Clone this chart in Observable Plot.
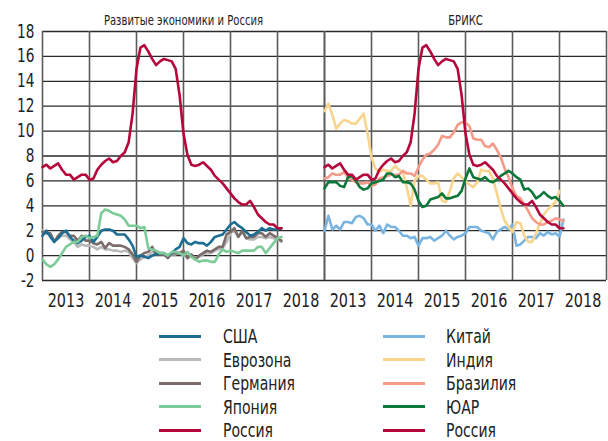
<!DOCTYPE html>
<html><head><meta charset="utf-8">
<script src="https://cdn.jsdelivr.net/npm/d3@7"></script>
<script src="https://cdn.jsdelivr.net/npm/@observablehq/plot@0.6"></script>
<style>
body{margin:0;background:#fff;font-family:"Liberation Sans Narrow","Arial Narrow","DejaVu Sans Condensed",sans-serif;color:#222;}
#chart svg{display:block;}
#legend{position:relative;width:608px;height:122px;overflow:visible;}
.sw{position:absolute;height:3px;width:42px;}
.lb{position:absolute;font-size:20px;line-height:18px;color:#222;transform:scaleX(0.78);transform-origin:0 50%;white-space:nowrap;}
</style></head>
<body>
<div id="chart"></div>
<div id="legend"></div>
<script>
// Panels (facet titles)
const panels = ["Развитые экономики и Россия", "БРИКС"];
const startYear = 2013;
const yearLabels = [2013, 2014, 2015, 2016, 2017, 2018];
const yTicks = [-2, 0, 2, 4, 6, 8, 10, 12, 14, 16, 18];

// Monthly y/y inflation, %, Jan 2013 onward
const russia = [7.1,7.3,7.0,7.2,7.4,6.9,6.5,6.5,6.1,6.3,6.5,6.5,
  6.1,6.2,6.9,7.3,7.6,7.8,7.5,7.6,8.0,8.3,9.1,11.4,
  15.0,16.7,16.9,16.4,15.8,15.3,15.6,15.8,15.7,15.6,15.0,12.9,
  9.8,8.1,7.3,7.2,7.3,7.5,7.2,6.9,6.4,6.1,5.8,5.4,
  5.0,4.6,4.3,4.1,4.1,4.4,3.9,3.3,3.0,2.7,2.5,2.5,
  2.2,2.2];
const usa = [1.6,2.0,1.5,1.1,1.4,1.8,2.0,1.5,1.2,1.0,1.2,1.5,
  1.6,1.1,1.5,2.0,2.1,2.1,2.0,1.7,1.7,1.7,1.3,0.8,
  -0.1,0.0,-0.1,-0.2,0.0,0.1,0.2,0.2,0.0,0.2,0.5,0.7,
  1.4,1.0,0.9,1.1,1.0,1.0,0.8,1.1,1.5,1.6,1.7,2.1,
  2.5,2.7,2.4,2.2,1.9,1.6,1.7,1.9,2.2,2.0,2.2,2.1,
  2.1,2.2];
const eurozone = [2.0,1.8,1.7,1.2,1.4,1.6,1.6,1.3,1.1,0.7,0.9,0.8,
  0.8,0.7,0.5,0.7,0.5,0.5,0.4,0.4,0.3,0.4,0.3,-0.2,
  -0.6,-0.3,-0.1,0.0,0.3,0.2,0.2,0.1,-0.1,0.1,0.1,0.2,
  0.3,-0.2,0.0,-0.2,-0.1,0.1,0.2,0.2,0.4,0.5,0.6,1.1,
  1.8,2.0,1.5,1.9,1.4,1.3,1.3,1.5,1.5,1.4,1.5,1.4,
  1.3,1.1];
const germany = [1.9,1.8,1.8,1.1,1.6,1.9,1.9,1.6,1.6,1.2,1.6,1.2,
  1.2,1.0,0.9,1.1,0.6,1.0,0.8,0.8,0.8,0.7,0.5,0.1,
  -0.5,0.0,0.2,0.3,0.7,0.1,0.1,0.1,-0.2,0.2,0.2,0.2,
  0.4,-0.2,0.1,-0.3,0.0,0.2,0.4,0.3,0.5,0.7,0.7,1.7,
  1.9,2.2,1.5,2.0,1.4,1.5,1.5,1.8,1.8,1.5,1.8,1.6,
  1.4,1.2];
const japan = [-0.3,-0.7,-0.9,-0.7,-0.3,0.2,0.7,0.9,1.1,1.1,1.5,1.6,
  1.4,1.5,1.6,3.4,3.7,3.6,3.4,3.3,3.2,2.9,2.4,2.4,
  2.4,2.2,2.3,0.6,0.5,0.4,0.2,0.2,0.0,0.3,0.3,0.2,
  0.0,0.3,-0.1,-0.3,-0.5,-0.4,-0.4,-0.5,-0.5,0.1,0.5,0.3,
  0.4,0.3,0.2,0.4,0.4,0.4,0.4,0.7,0.7,0.2,0.6,1.0,
  1.4,1.5];
const china = [2.0,3.2,2.1,2.4,2.1,2.7,2.7,2.6,3.1,3.2,3.0,2.5,
  2.5,2.0,2.4,1.8,2.5,2.3,2.3,2.0,1.6,1.6,1.4,1.5,
  0.8,1.4,1.4,1.5,1.2,1.4,1.6,2.0,1.6,1.3,1.5,1.6,
  1.8,2.3,2.3,2.3,2.0,1.9,1.8,1.3,1.9,2.1,2.3,2.1,
  2.5,0.8,0.9,1.2,1.5,1.5,1.4,1.8,1.6,1.9,1.7,1.8,
  1.5,2.9];
const india = [11.6,12.2,11.3,10.2,10.6,10.9,10.8,10.6,10.6,11.0,11.4,9.8,
  7.9,7.0,6.7,6.9,6.8,6.8,7.2,6.9,6.7,5.5,4.0,6.0,
  6.4,6.4,6.1,5.8,5.8,5.9,4.4,4.3,5.2,6.2,6.6,6.3,
  6.0,5.7,5.5,5.9,6.9,6.8,6.8,6.2,5.0,3.8,2.8,2.3,
  1.9,2.7,2.6,1.6,1.1,1.1,1.8,2.6,3.3,3.7,4.0,4.3,5.2];
const brazil = [6.2,6.3,6.6,6.5,6.5,6.7,6.3,6.1,5.9,5.8,5.8,5.9,
  5.6,5.7,6.2,6.3,6.4,6.5,6.5,6.5,6.8,6.6,6.6,6.4,
  7.1,7.7,8.1,8.2,8.5,8.9,9.6,9.5,9.5,9.9,10.5,10.7,
  10.7,10.4,9.4,9.3,9.3,8.8,8.7,9.0,8.5,7.9,7.0,6.3,
  5.4,4.8,4.6,4.1,3.6,3.0,2.7,2.5,2.5,2.7,2.8,3.0,
  2.9,2.8];
const southAfrica = [5.4,5.9,5.9,5.9,5.6,5.5,6.3,6.4,6.0,5.5,5.3,5.4,
  5.8,5.9,6.0,6.1,6.6,6.6,6.3,6.4,5.9,5.9,5.8,5.3,
  4.4,3.9,4.0,4.5,4.6,4.7,5.0,4.6,4.6,4.7,4.8,5.2,
  6.2,7.0,6.3,6.2,6.1,6.3,6.0,5.9,6.1,6.4,6.6,6.8,
  6.6,6.3,6.1,5.3,5.4,5.1,4.6,4.8,5.1,4.8,4.6,4.7,
  4.4,4.0];

// Series: [name, values, colour]
const leftSeries = [
  ["Еврозона", eurozone, "#b9b9b9"],
  ["Германия", germany, "#7b6b6b"],
  ["США", usa, "#1c6f92"],
  ["Япония", japan, "#7dcb98"],
  ["Россия", russia, "#b5073b"]
];
const rightSeries = [
  ["Китай", china, "#7ab5e2"],
  ["Индия", india, "#f8d58e"],
  ["Бразилия", brazil, "#f69b8a"],
  ["ЮАР", southAfrica, "#0b7738"],
  ["Россия", russia, "#b5073b"]
];
const legendLeft = ["США", "Еврозона", "Германия", "Япония", "Россия"];
const legendRight = ["Китай", "Индия", "Бразилия", "ЮАР", "Россия"];

const rows = [];
[leftSeries, rightSeries].forEach((group, p) => {
  group.forEach(([name, vals]) => {
    vals.forEach((v, i) => rows.push({panel: panels[p], key: name, t: startYear + i / 12, v}));
  });
});
const colorMap = new Map([...leftSeries, ...rightSeries].map(d => [d[0], d[2]]));
const keys = [...colorMap.keys()];

const yearEdges = d3.range(startYear, startYear + yearLabels.length + 1);
const yearMids = yearLabels.map(y => y + 0.5);

const chart = Plot.plot({
  width: 608, height: 315,
  marginLeft: 42, marginRight: 2, marginTop: 31, marginBottom: 35,
  style: {fontFamily: '"Liberation Sans Narrow","Arial Narrow","DejaVu Sans Condensed",sans-serif', color: "#222", background: "#fff"},
  fx: {domain: panels, padding: 0, label: null},
  x: {domain: [startYear, startYear + yearLabels.length]},
  y: {domain: [-2, 18]},
  color: {domain: keys, range: keys.map(k => colorMap.get(k))},
  marks: [
    Plot.ruleY(yTicks, {stroke: "#2a2a2a", strokeWidth: 1.3}),
    Plot.ruleX(yearEdges, {stroke: "#5a5a5a", strokeWidth: 1.6}),
    Plot.lineY(rows, {fx: "panel", x: "t", y: "v", z: "key", stroke: "key", strokeWidth: 2.6}),
    Plot.axisY({ticks: yTicks, tickFormat: d => (d < 0 ? "-" : "") + Math.abs(d), tickSize: 0, tickPadding: 8, fontSize: 19, label: null}),
    Plot.axisX({ticks: yearMids, tickFormat: d => String(Math.floor(d)), tickSize: 0, tickPadding: 12, fontSize: 20, label: null}),
    Plot.axisFx({anchor: "top", tickSize: 0, tickPadding: 7, fontSize: 14, label: null})
  ]
});
document.getElementById("chart").appendChild(chart);

// condense SVG text horizontally (narrow typeface look), scaling about each text's anchor x
chart.querySelectorAll("text").forEach(t => {
  let x = parseFloat(t.getAttribute("x"));
  if (!isFinite(x)) x = 0;
  const tr = t.getAttribute("transform") || "";
  t.setAttribute("transform", `${tr} translate(${x},0) scale(0.8,1) translate(${-x},0)`.trim());
});

const legend = document.getElementById("legend");
[[legendLeft, 159, 223], [legendRight, 383, 446]].forEach(([names, sx, lx]) => {
  names.forEach((n, i) => {
    const cy = 21 + i * 23.6;
    const sw = document.createElement("div");
    sw.className = "sw"; sw.style.left = sx + "px"; sw.style.top = (cy - 1.5) + "px";
    sw.style.background = colorMap.get(n);
    const lb = document.createElement("div");
    lb.className = "lb"; lb.style.left = lx + "px"; lb.style.top = (cy - 9) + "px";
    lb.textContent = n;
    legend.appendChild(sw); legend.appendChild(lb);
  });
});
</script>
</body></html>
